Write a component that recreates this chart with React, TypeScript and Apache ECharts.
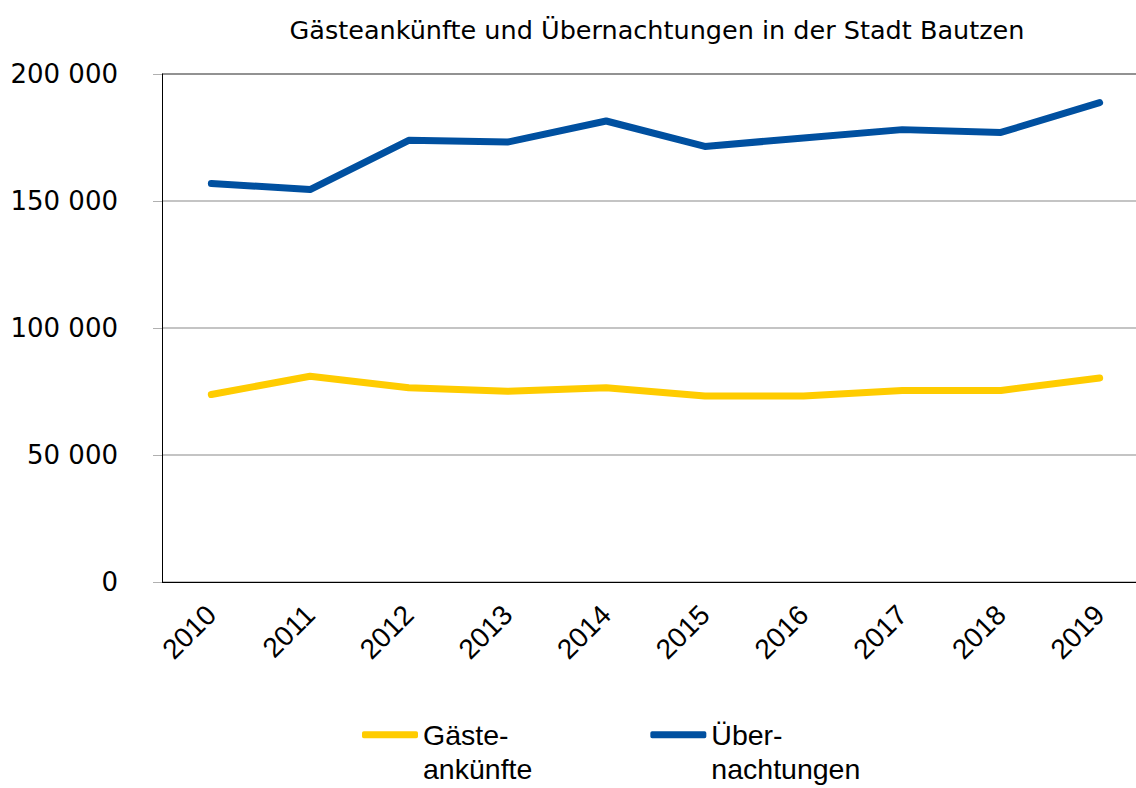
import React, { useEffect, useRef } from "react";
import * as echarts from "echarts";

const years = ["2010", "2011", "2012", "2013", "2014", "2015", "2016", "2017", "2018", "2019"];
const gaesteankuenfte = [73800, 81000, 76500, 75100, 76500, 73200, 73200, 75400, 75400, 80300];
const uebernachtungen = [156900, 154500, 173900, 173200, 181500, 171500, 174800, 178100, 177000, 188700];
const yTicks = [0, 50000, 100000, 150000, 200000];
const seriesNames = ["Gäste-\nankünfte", "Über-\nnachtungen"];
const titleText = "Gästeankünfte und Übernachtungen in der Stadt Bautzen";

const fmt = (v: number) => {
  if (v === 0) return "0";
  const s = String(v);
  return s.replace(/\B(?=(\d{3})+(?!\d))/g, " ");
};

export default function App() {
  const ref = useRef<HTMLDivElement>(null);
  useEffect(() => {
    if (!ref.current) return;
    const chart = echarts.init(ref.current, undefined, { renderer: "svg" });
    const L = 34;
    chart.setOption({
      animation: false,
      backgroundColor: "#ffffff",
      title: {
        text: titleText,
        left: 652,
        textAlign: "center",
        top: 12,
        textStyle: { fontFamily: "DejaVu Sans", fontSize: 25.5, fontWeight: "normal", color: "#000" },
      },
      legend: {
        left: 357,
        top: 734.7 - 5 - 1.5 * L,
        itemWidth: 56,
        itemHeight: 7,
        itemGap: 118,
        icon: "roundRect",
        formatter: (name: string) => "\n" + name,
        data: [
          { name: seriesNames[0], itemStyle: { color: "#ffcc00" } },
          { name: seriesNames[1], itemStyle: { color: "#0050a0" } },
        ],
        textStyle: {
          fontFamily: "Liberation Sans",
          fontSize: 28.5,
          color: "#000",
          lineHeight: L,
        },
      },
      grid: {
        left: 162,
        top: 74,
        height: 508,
        width: 987,
        containLabel: false,
        outerBoundsMode: "none",
      },
      xAxis: {
        type: "category",
        data: years,
        boundaryGap: true,
        axisLine: { show: true, lineStyle: { color: "#000", width: 1 } },
        axisTick: { show: false },
        axisLabel: {
          rotate: 45,
          margin: 28,
          fontFamily: "Liberation Sans",
          fontSize: 28,
          color: "#000",
        },
      },
      yAxis: {
        type: "value",
        min: yTicks[0],
        max: yTicks[yTicks.length - 1],
        interval: 50000,
        axisLine: { show: true, lineStyle: { color: "#000", width: 1 } },
        axisTick: { show: true, length: 9, lineStyle: { color: "#b0b0b0" } },
        axisLabel: {
          formatter: (v: number) => fmt(v),
          margin: 44,
          fontFamily: "DejaVu Sans",
          fontSize: 26,
          color: "#000",
        },
        splitLine: {
          show: true,
          lineStyle: { color: ["#b0b0b0", "#b0b0b0", "#b0b0b0", "#b0b0b0", "#6e6e6e"], width: 1.5 },
        },
      },
      series: [
        {
          name: seriesNames[0],
          type: "line",
          data: gaesteankuenfte,
          symbol: "none",
          lineStyle: { color: "#ffcc00", width: 7, cap: "round", join: "round" },
          itemStyle: { color: "#ffcc00" },
        },
        {
          name: seriesNames[1],
          type: "line",
          data: uebernachtungen,
          symbol: "none",
          lineStyle: { color: "#0050a0", width: 7, cap: "round", join: "round" },
          itemStyle: { color: "#0050a0" },
        },
      ],
    });
    return () => chart.dispose();
  }, []);
  return (
    <div
      ref={ref}
      style={{ position: "absolute", left: 0, top: 0, width: 1136, height: 788, background: "#fff" }}
    />
  );
}
